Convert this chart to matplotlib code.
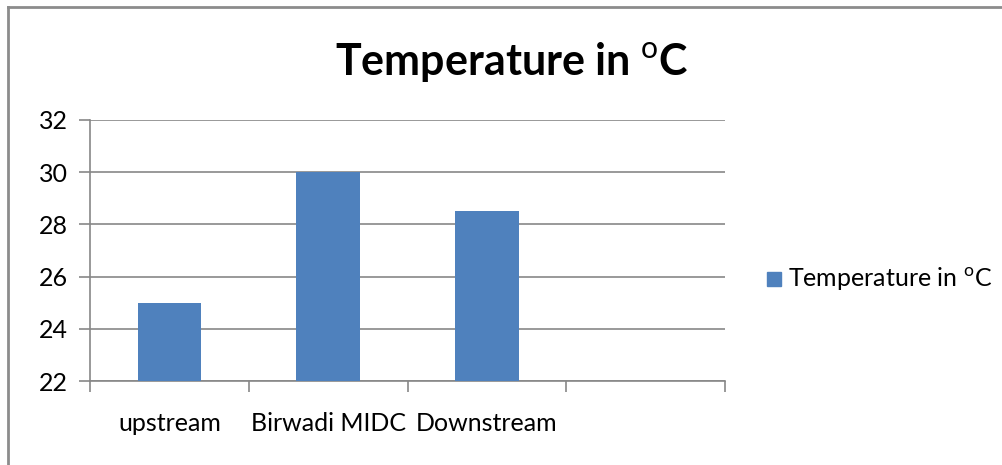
import matplotlib
matplotlib.use("Agg")
import matplotlib.pyplot as plt
from matplotlib.lines import Line2D
from matplotlib.patches import Rectangle

categories = ["upstream", "Birwadi MIDC", "Downstream", ""]
values = [25, 30, 28.5]
yticks = [22, 24, 26, 28, 30, 32]
title = r"Temperature in $^{\mathrm{o}}$C"
series_name = r"Temperature in $^{\mathrm{o}}$C"

plt.rcParams['font.family'] = ['Lato', 'DejaVu Sans']
plt.rcParams['mathtext.fontset'] = 'custom'
plt.rcParams['mathtext.rm'] = 'Lato'
plt.rcParams['mathtext.bf'] = 'Lato:bold'

W, H = 1003, 465
fig = plt.figure(figsize=(W/100, H/100), dpi=100)
ax = fig.add_axes([90/W, 1-381/H, (725-90)/W, (381-120)/H])

bar_color = "#4F81BD"
grid_color = "#878787"
ax.bar(range(len(values)), values, width=0.40, color=bar_color, zorder=3,
       label=series_name)
ax.set_xlim(-0.5, len(categories)-0.5)
ax.set_ylim(22, 32)
ax.set_yticks(yticks)
ax.set_yticklabels([str(v) for v in yticks])
ax.yaxis.grid(True, color=grid_color, linewidth=1.2, zorder=0)
ax.set_axisbelow(True)

ax.set_xticks(range(len(categories)))
ax.set_xticklabels(categories)
ax.set_xticks([i-0.5 for i in range(len(categories)+1)], minor=True)
ax.tick_params(axis='x', which='major', length=0, pad=22, labelsize=18)
ax.tick_params(axis='x', which='minor', length=8, width=1.2, color=grid_color)
ax.tick_params(axis='y', length=8, width=1.2, color=grid_color, pad=8, labelsize=18)

for s in ['top', 'right']:
    ax.spines[s].set_visible(False)
for s in ['left', 'bottom']:
    ax.spines[s].set_color(grid_color)
    ax.spines[s].set_linewidth(1.2)

fig.text(512/W, 1-62/H, title, ha='center', va='center', fontsize=31,
         fontweight='bold')

# legend
fig.patches.append(Rectangle((767/W, 1-286/H), 14/W, 14/H, transform=fig.transFigure,
                             color=bar_color, figure=fig))
fig.text(788/W, 1-279/H, series_name, ha='left', va='center', fontsize=18)

# outer frame (partial, as in the reference)
frame_color = "#8C8C8C"
fig.add_artist(Line2D([8/W, 8/W], [0, 1-7/H], transform=fig.transFigure,
                      color=frame_color, linewidth=2))
fig.add_artist(Line2D([8/W, 1], [1-7/H, 1-7/H], transform=fig.transFigure,
                      color=frame_color, linewidth=2))

fig.savefig("out.png", dpi=100)
